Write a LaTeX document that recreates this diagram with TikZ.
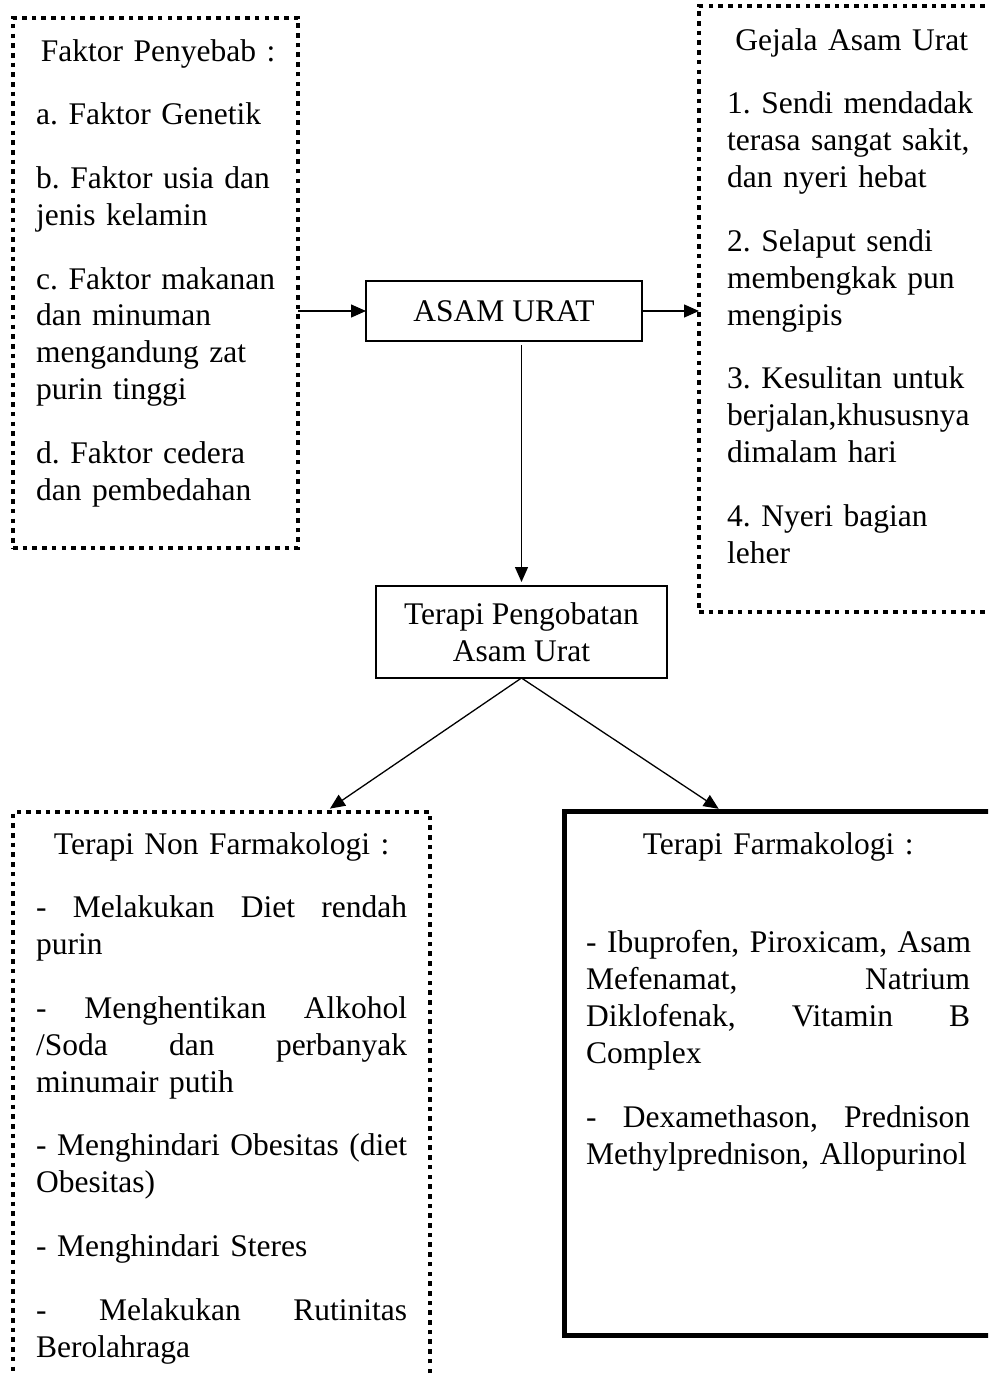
\documentclass[tikz,border=0pt]{standalone}
\usepackage{fontspec}
\setmainfont{Liberation Serif}
\usetikzlibrary{arrows.meta}

\newcommand{\jl}[2]{\leavevmode\hbox to #1{#2}}

\begin{document}
\begin{tikzpicture}[x=1pt,y=-1pt]

\tikzstyle dotbox=[draw, line width=4pt, dash pattern=on 4.6pt off 5.1pt, anchor=north west, inner sep=0, outer sep=0]
\tikzstyle thickbox=[draw, line width=5pt, anchor=north west, inner sep=0, outer sep=0]
\tikzstyle plainbox=[draw, line width=1.3pt, inner sep=0, outer sep=0, align=center, font=\fontsize{31.5pt}{36.9pt}\selectfont]
\tikzstyle txt=[anchor=north west, inner sep=0, text width=420pt, align=left, font=\fontsize{31.5pt}{36.9pt}\selectfont\frenchspacing]
\tikzstyle link=[line width=1.3pt, -{Triangle[length=15pt,width=13pt]}]

\useasboundingbox (0,0) rectangle (988,1376);
\clip (0,0) rectangle (988,1376);

\node (cause) [dotbox, minimum width=285pt, minimum height=530pt] at (13,18) {};
\node (symptom) [dotbox, minimum width=320pt, minimum height=606pt] at (699,6) {};
\node (asam) [plainbox, minimum width=276pt, minimum height=60pt] at (504,311) {ASAM URAT};
\node (therapy) [plainbox, minimum width=291pt, minimum height=92pt] at (521.5,632) {Terapi Pengobatan\\Asam Urat};
\node (nonpharm) [dotbox, minimum width=417pt, minimum height=600pt] at (13,812) {};
\node (pharm) [thickbox, minimum width=450pt, minimum height=524pt] at (564,811) {};

\node (causetext) [txt] at (36,39) {\makebox[244pt]{Faktor Penyebab :}\\[26.8pt]
a. Faktor Genetik\\[26.8pt]
b. Faktor usia dan\\ jenis kelamin\\[26.8pt]
c. Faktor makanan\\ dan minuman\\ mengandung zat\\ purin tinggi\\[26.8pt]
d. Faktor cedera\\ dan pembedahan};

\node (symptomtext) [txt] at (727,28) {\makebox[249pt]{Gejala Asam Urat}\\[26.8pt]
1. Sendi mendadak\\ terasa sangat sakit,\\ dan nyeri hebat\\[26.8pt]
2. Selaput sendi\\ membengkak pun\\ mengipis\\[26.8pt]
3. Kesulitan untuk\\ berjalan,khususnya\\ dimalam hari\\[26.8pt]
4. Nyeri bagian\\ leher};

\node (nonpharmtext) [txt] at (36,832) {\makebox[371pt]{Terapi Non Farmakologi :}\\[26.8pt]
\jl{371pt}{- \hfill Melakukan \hfill Diet \hfill rendah}\\ purin\\[26.8pt]
\jl{371pt}{- \hfill Menghentikan \hfill Alkohol}\\ \jl{371pt}{/Soda \hfill dan \hfill perbanyak}\\ minumair putih\\[26.8pt]
\jl{371pt}{- \hfill Menghindari \hfill Obesitas \hfill (diet}\\ Obesitas)\\[26.8pt]
- Menghindari Steres\\[26.8pt]
\jl{371pt}{- \hfill Melakukan \hfill Rutinitas}\\ Berolahraga};

\node (pharmtext) [txt] at (586,832) {\makebox[384pt]{Terapi Farmakologi :}\\[62pt]
\jl{384pt}{- \hfill Ibuprofen, \hfill Piroxicam, \hfill Asam}\\ \jl{384pt}{Mefenamat, \hfill Natrium}\\ \jl{384pt}{Diklofenak, \hfill Vitamin \hfill B}\\ Complex\\[26.8pt]
\jl{384pt}{- \hfill Dexamethason, \hfill Prednison}\\ Methylprednison, Allopurinol};

\draw [link] (asam.west -| cause.east) -- (asam.west);
\draw [link] (asam.east) -- (asam.east -| symptom.west);
\draw [link, shorten <=4pt, shorten >=4pt] (therapy.north |- asam.south) -- (therapy.north);
\draw [link, shorten >=6pt] (therapy.south) -- ([xshift=312pt]nonpharm.north west);
\draw [link, shorten >=4pt] (therapy.south) -- ([xshift=158pt]pharm.north west);

\end{tikzpicture}
\end{document}
